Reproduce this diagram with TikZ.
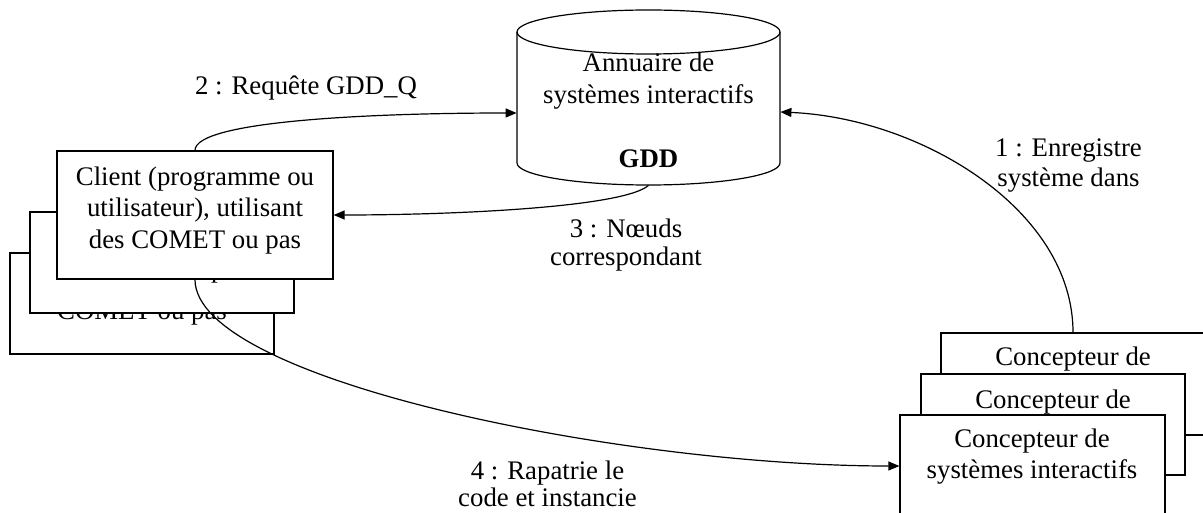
\documentclass[tikz,border=0pt]{standalone}
\usepackage{fontspec}
\setmainfont{Liberation Serif}
\usetikzlibrary{fit,calc,arrows.meta}
\newcommand\lns[2]{\fontsize{13.4}{#1}\selectfont\begin{tabular}[t]{@{}c@{}}#2\end{tabular}}
\begin{document}
\begin{tikzpicture}[x=0.5pt,y=-0.5pt,
  box/.style={draw,fill=white,line width=0.6pt,inner sep=0pt},
  txt/.style={inner sep=0pt,anchor=base,font=\fontsize{13.4}{16}\selectfont},
  arr/.style={line width=0.6pt,-{Triangle[length=5.5pt,width=4.5pt]}}]
\useasboundingbox (0,0) rectangle (1203,513);
\clip (0,0) rectangle (1203,513);
% client stack
\node[box,fit={(10,253)(274,354)}] (c3) {};
\node[txt] (c3t) at (142,319) {COMET ou pas};
\node[box,fit={(30,212)(294,313)}] (c2) {};
\node[txt] (c2t) at (162,277) {COMET ou pas};
\node[box,fit={(57,151)(333,279)}] (c1) {};
\node[txt] (c1t) at (195,185) {\lns{16pt}{Client (programme ou\\utilisateur), utilisant\\des COMET ou pas}};
% designer stack
\node[box,fit={(941,333)(1205,435)}] (d3) {};
\node[txt] (d3t) at (1073,365) {Concepteur de};
\node[box,fit={(921,374)(1185,475)}] (d2) {};
\node[txt] (d2t) at (1053,408) {Concepteur de};
\node[box,fit={(900,415)(1165,543)}] (d1) {};
\node[txt] (d1t) at (1032,447) {\lns{15.5pt}{Concepteur de\\systèmes interactifs}};
% cylinder
\node[fit={(517,10)(780,185)},inner sep=0pt] (gdd) {};
\draw[line width=0.6pt] (648.5,32) ellipse [x radius=65.75pt,y radius=11pt];
\draw[line width=0.6pt] (517,32) -- (517,163) arc[start angle=180,end angle=360,x radius=65.75pt,y radius=11pt] -- (780,32);
\node[txt] (gddt) at (648.5,72) {\lns{16pt}{Annuaire de\\systèmes interactifs\\ \\\textbf{GDD}}};
% labels
\node[txt] (l2) at (306,95) {2 : Requête GDD\_Q};
\node[txt] (l3) at (626,237) {\lns{14pt}{3 : Nœuds\\correspondant}};
\node[txt] (l1) at (1068.5,157) {\lns{15pt}{1 : Enregistre\\système dans}};
\node[txt] (l4) at (547.5,479) {\lns{13.5pt}{4 : Rapatrie le\\code et instancie}};
% connectors
\draw[arr] (d3.north) .. controls +(0,-123) and +(140,6) .. ($(gdd.east)+(0,14.5)$);
\draw[arr] (c1.north) .. controls +(0,-30) and +(-140,0) .. ($(gdd.west)+(0,15.5)$);
\draw[arr] (gdd.south) .. controls +(-25,22) and +(120,0) .. (c1.east);
\draw[arr] (c1.south) .. controls +(0,100) and +(-280,0) .. ($(d1.west)+(0,-13)$);
\end{tikzpicture}
\end{document}
